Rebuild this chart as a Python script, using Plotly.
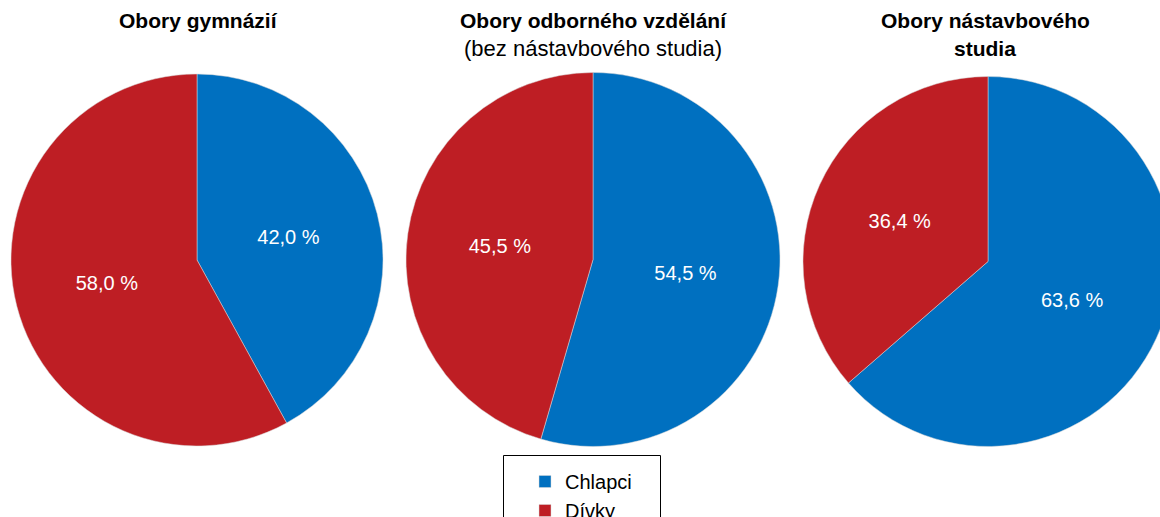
import plotly.graph_objects as go

W, H = 1180, 545  # page viewport (1160x517) clips the overflow

labels = ["Chlapci", "Dívky"]
gymnazia = [42.0, 58.0]
odborne = [54.5, 45.5]
nastavbove = [63.6, 36.4]
colors = ["#0070C0", "#BE1E24"]

titles = [
    ["<b>Obory gymnázií</b>"],
    ["<b>Obory odborného vzdělání</b>", "(bez nástavbového studia)"],
    ["<b>Obory nástavbového</b>", "<b>studia</b>"],
]

FONT = "Liberation Sans, Arial, sans-serif"

def fmt(v):
    return f"{v:.1f}".replace(".", ",") + " %"

# pie centres / radii in pixels from top-left (layout only)
geo = [(197, 260, 186), (593, 259.5, 187), (988, 261.5, 185)]
series = [gymnazia, odborne, nastavbove]

fig = go.Figure()
for vals, (cx, cy, r) in zip(series, geo):
    fig.add_trace(go.Pie(
        labels=labels,
        values=vals,
        text=[fmt(v) for v in vals],
        textinfo="text",
        textposition="inside",
        insidetextorientation="horizontal",
        insidetextfont=dict(color="white", size=20, family=FONT),
        sort=False,
        direction="clockwise",
        rotation=0,
        marker=dict(colors=colors, line=dict(color="#d8d8d8", width=0.5)),
        hoverinfo="label+percent",
        domain=dict(x=[(cx - r) / W, (cx + r) / W],
                    y=[(H - cy - r) / H, (H - cy + r) / H]),
    ))

annotations = []
title_x = [198, 593, 985]
for tx, lines in zip(title_x, titles):
    for i, line in enumerate(lines):
        bold = line.startswith("<b>")
        annotations.append(dict(
            text=line, x=tx / W, y=1 - (21 + 27 * i) / H,
            xref="paper", yref="paper", xanchor="center", yanchor="middle",
            showarrow=False,
            font=dict(size=21 if bold else 22, color="black", family=FONT),
        ))

fig.update_layout(
    width=W, height=H,
    margin=dict(l=0, r=0, t=0, b=0),
    paper_bgcolor="white", plot_bgcolor="white",
    annotations=annotations,
    showlegend=True,
    legend=dict(
        x=525 / W, y=1 - 462 / H, xanchor="left", yanchor="top",
        font=dict(size=20, color="black", family=FONT),
        bgcolor="rgba(0,0,0,0)", borderwidth=0,
    ),
    shapes=[dict(type="rect", xref="paper", yref="paper",
                 x0=503.5 / W, x1=660.5 / W, y0=1 - 560 / H, y1=1 - 455.5 / H,
                 line=dict(color="black", width=1), fillcolor="rgba(0,0,0,0)")],
)

fig.write_html("out.html",
               config={"displayModeBar": False},
               post_script="document.body.style.margin='0';document.body.style.overflow='hidden';document.documentElement.style.overflow='hidden';")
